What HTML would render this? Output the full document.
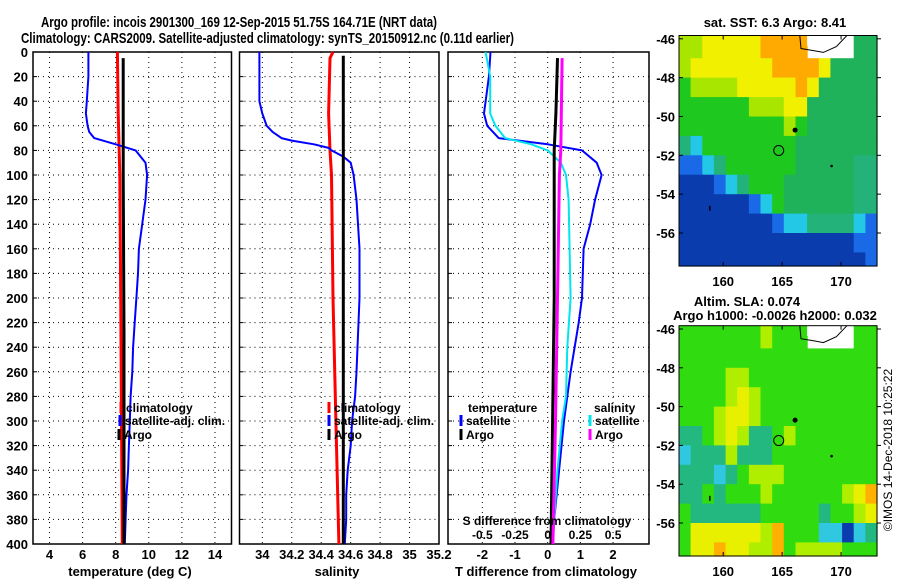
<!DOCTYPE html>
<html><head><meta charset="utf-8"><style>
html,body{margin:0;padding:0;background:#fff;}
svg{display:block;font-family:"Liberation Sans",Arial,sans-serif;font-weight:bold;}
</style></head><body>
<svg id="c" width="900" height="580" viewBox="0 0 900 580" xmlns="http://www.w3.org/2000/svg"></svg>
<script>
// ---------- data ----------
const depthTicks=[0,20,40,60,80,100,120,140,160,180,200,220,240,260,280,300,320,340,360,380,400];
const tTicks=[4,6,8,10,12,14];
const sTicks=[34,34.2,34.4,34.6,34.8,35,35.2];
const sTickLabels=["34","34.2","34.4","34.6","34.8","35","35.2"];
const dTicks=[-2,-1,0,1,2];
const dsTicks=[-0.5,-0.25,0,0.25,0.5];
const dsTickLabels=["-0.5","-0.25","0","0.25","0.5"];

const tClimDepth=[0,50,100,200,300,400];
const tClim=[8.1,8.15,8.25,8.3,8.35,8.4];
const tArgoDepth=[5,100,230,300,400];
const tArgo=[8.45,8.45,8.5,8.5,8.5];
const tSatDepth=[0,20,40,50,60,65,70,75,80,90,100,120,140,160,180,200,220,240,260,280,300,320,340,360,380,400];
const tSat=[6.35,6.35,6.25,6.2,6.3,6.4,6.7,8.0,9.2,9.8,9.9,9.8,9.6,9.4,9.35,9.25,9.15,9.05,9.0,8.9,8.85,8.8,8.75,8.65,8.6,8.55];

const sClimDepth=[0,5,50,80,100,200,300,350,400];
const sClim=[34.48,34.46,34.45,34.46,34.47,34.48,34.5,34.51,34.52];
const sArgoDepth=[3,400];
const sArgo=[34.55,34.55];
const sSatDepth=[0,40,50,60,65,70,72,75,78,80,85,90,100,120,160,200,260,280,300,320,340,360,380,400];
const sSat=[33.98,33.98,34.0,34.03,34.07,34.13,34.2,34.35,34.45,34.47,34.55,34.6,34.62,34.64,34.66,34.66,34.64,34.63,34.61,34.6,34.58,34.57,34.57,34.56];

const dTSatDepth=[0,20,50,60,70,75,80,90,100,120,140,160,200,220,260,300,340,380,400];
const dTSat=[-1.75,-1.8,-1.95,-1.85,-1.5,0,1.05,1.5,1.65,1.45,1.3,1.1,1.05,0.95,0.7,0.5,0.35,0.2,0.15];
const dTArgoDepth=[5,50,80,100,200,300,400];
const dTArgo=[0.3,0.25,0.2,0.2,0.2,0.15,0.1];
const dSSatDepth=[0,20,50,60,70,75,80,90,100,120,200,240,280,300,340,380,400];
const dSSat=[-0.475,-0.44,-0.44,-0.4,-0.325,-0.125,0,0.1,0.14,0.16,0.175,0.15,0.14,0.11,0.075,0.05,0.04];
const dSArgoDepth=[5,80,100,200,300,400];
const dSArgo=[0.11,0.1,0.09,0.075,0.06,0.04];

const lonTicks=[160,165,170];
const latTicks=[-46,-48,-50,-52,-54,-56];
const argoLon=164.71, argoLat=-51.75;
const sstGrid=[
"LLYYYYYOOOOWWWWEE","LYYYYYYYOOOOYEEEE","GLLLLYYYYYOYEEEEE","GGGGGGLLLYYEEEEEE",
"GGGGGGGGGLGEEEEEE","TCGGGGGGGGEEEEEEE","MMCTGGGGGGEEEEETT","BBBMCTGGGEEEEEETT",
"BBBBBBMCGEEEEEETT","BBBBBBBBMCCTTTTCM","BBBBBBBBBBBBBBBMM","BBBBBBBBBBBBBBBBM"];
const slaGrid=[
"GGGGGGGLGGGWWWWGG","GGGGGGGGGGGGGGGGG","GGGGLLGGGGGGGGGGG","GGGGLYLGGGGGGGGGG",
"GGGLYYLGGGGGGGGGG","TTGLYLTTGLGGGGGGG","CTTTLTTTGGGGGGGGG","TTTCTGLLLGGGGGGGG",
"TTGTGGGLGGGGGGLYO","GTTTTTTGGGGGTGGLY","GYYYYYYLOGGGCCBCT","GYYOYYLLOGLLLLGGG"];

// ---------- helpers ----------
const NS="http://www.w3.org/2000/svg";
const svg=document.getElementById('c');
function mk(tag,attrs,parent){const e=document.createElementNS(NS,tag);for(const k in attrs)e.setAttribute(k,attrs[k]);(parent||svg).appendChild(e);return e;}
function txt(s,x,y,size,anchor,parent){const e=mk('text',{x:x,y:y,'font-size':size,'text-anchor':anchor||'middle',fill:'#000'},parent);e.textContent=s;return e;}
const Y0=52,Y1=544;
function yD(d){return Y0+(Y1-Y0)*d/400;}

function panel(name,x0,x1,vmin,vmax){
  const g=mk('g',{});
  
  
  const sx=v=>x0+(x1-x0)*(v-vmin)/(vmax-vmin);
  return {g,sx,x0,x1};
}
function frame(p,xt,xl){
  const g=p.g;
  for(const d of depthTicks){ if(d>0&&d<400){
    const l=mk('line',{x1:p.x0,x2:p.x1,y1:yD(d),y2:yD(d),stroke:'#000','stroke-width':1,'stroke-dasharray':'1,4'},g);
    
    mk('line',{x1:p.x0,x2:p.x0+4,y1:yD(d),y2:yD(d),stroke:'#000'},g);
  }}
  xt.forEach((v,i)=>{
    const x=p.sx(v);
    const l=mk('line',{x1:x,x2:x,y1:Y0,y2:Y1,stroke:'#000','stroke-width':1,'stroke-dasharray':'1,4'},g);
    
    const t=txt(xl?xl[i]:String(v),x,559,13,'middle',g);
    
  });
  mk('rect',{x:p.x0,y:Y0,width:p.x1-p.x0,height:Y1-Y0,fill:'none',stroke:'#000','stroke-width':1.5},g);
}
function series(p,depths,vals,color,w,name){
  let d='';
  for(let i=0;i<depths.length;i++){d+=(i?'L':'M')+p.sx(vals[i]).toFixed(1)+','+yD(depths[i]).toFixed(1);}
  const e=mk('path',{d:d,fill:'none',stroke:color,'stroke-width':w,'stroke-linejoin':'round'},p.g);
  
  
}
function legendEntry(g,x,y,color,label,name){
  const gg=mk('g',{},g);
  
  
  mk('line',{x1:x,x2:x,y1:y-10,y2:y+1,stroke:color,'stroke-width':3},gg);
  if(label) txt(label,x+5,y,12,'start',gg);
}

// ---------- titles ----------
let t=txt('Argo profile: incois 2901300_169 12-Sep-2015 51.75S 164.71E (NRT data)',41,27,15,'start');
t.setAttribute('textLength','396');t.setAttribute('lengthAdjust','spacingAndGlyphs');

t=txt('Climatology: CARS2009. Satellite-adjusted climatology: synTS_20150912.nc (0.11d earlier)',21,43,15,'start');
t.setAttribute('textLength','493');t.setAttribute('lengthAdjust','spacingAndGlyphs');


for(const d of depthTicks){
  const e=txt(String(d),28,yD(d)+5,13,'end');
  
}

// ---------- panel 1: temperature ----------
const p1=panel('temperature-panel',33,231.5,3,15);
frame(p1,tTicks);
series(p1,tClimDepth,tClim,'#ff0000',3,'temperature-climatology-line');
series(p1,tSatDepth,tSat,'#0000ff',2,'temperature-satellite-line');
series(p1,tArgoDepth,tArgo,'#000000',3,'temperature-argo-line');
legendEntry(p1.g,121,412,'#ff0000','climatology','legend-entry-climatology');
legendEntry(p1.g,120,425,'#0000ff','satellite-adj. clim.','legend-entry-satellite');
legendEntry(p1.g,119,439,'#000000','Argo','legend-entry-argo');
t=txt('temperature (deg C)',130,576,13,'middle');

// ---------- panel 2: salinity ----------
const p2=panel('salinity-panel',239.5,439,33.845,35.2);
frame(p2,sTicks,sTickLabels);
series(p2,sClimDepth,sClim,'#ff0000',3,'salinity-climatology-line');
series(p2,sSatDepth,sSat,'#0000ff',2,'salinity-satellite-line');
series(p2,sArgoDepth,sArgo,'#000000',3,'salinity-argo-line');
legendEntry(p2.g,329,412,'#ff0000','climatology','legend-entry-climatology');
legendEntry(p2.g,329,425,'#0000ff','satellite-adj. clim.','legend-entry-satellite');
legendEntry(p2.g,329,439,'#000000','Argo','legend-entry-argo');
t=txt('salinity',337,576,13,'middle');

// ---------- panel 3: differences ----------
const p3=panel('difference-panel',448,649,-3.05,3.1);
frame(p3,dTicks);
const p3s={g:p3.g,sx:v=>p3.sx(v*4),x0:p3.x0,x1:p3.x1};
series(p3,dTSatDepth,dTSat,'#0000ff',2,'t-diff-satellite-line');
series(p3s,dSSatDepth,dSSat,'#00e5ee',2,'s-diff-satellite-line');
series(p3,dTArgoDepth,dTArgo,'#000000',3,'t-diff-argo-line');
series(p3s,dSArgoDepth,dSArgo,'#ff00ff',3,'s-diff-argo-line');
t=txt('temperature',468,412,12,'start',p3.g);
legendEntry(p3.g,461,425,'#0000ff','satellite','legend-entry-t-satellite');
legendEntry(p3.g,461,439,'#000000','Argo','legend-entry-t-argo');
t=txt('salinity',594,412,12,'start',p3.g);
legendEntry(p3.g,590,425,'#00e5ee','satellite','legend-entry-s-satellite');
legendEntry(p3.g,590,439,'#ff00ff','Argo','legend-entry-s-argo');
t=txt('S difference from climatology',547,525,12,'middle',p3.g);
dsTicks.forEach((v,i)=>{const e=txt(dsTickLabels[i],p3s.sx(v),539,12,'middle',p3.g);});
t=txt('T difference from climatology',546,576,13,'middle');

// ---------- maps ----------
const colors={G:'#1ec81e',E:'#20b25a',T:'#22b27a',C:'#22c8e6',M:'#1a6ae8',B:'#0b3cae',Y:'#f0f000',L:'#a8e600',O:'#ffaa00',W:'#ffffff'};
const slaColors={G:'#30dc10',E:'#20b25a',T:'#22b880',C:'#30c8e0',M:'#1a6ae8',B:'#0b3cae',Y:'#e8f000',L:'#b0ee00',O:'#ffb000',W:'#ffffff'};
const LON0=156.25,LON1=173.05,LAT0=-45.83,LAT1=-57.7;
function map(name,y0,y1,grid,cols){
  const x0=679,x1=877;
  const g=mk('g',{});
  
  
  const mx=lo=>x0+(x1-x0)*(lo-LON0)/(LON1-LON0);
  const my=la=>y0+(y1-y0)*(la-LAT0)/(LAT1-LAT0);
  const nc=grid[0].length, nr=grid.length;
  for(let r=0;r<nr;r++)for(let c=0;c<nc;c++){
    const lo=LON0+c*(LON1-LON0)/nc;
    const ya=r===0?y0:my(-46-r), yb=r===nr-1?y1:my(-47-r);
    const hh=grid[r][c]==='W'?(yb-ya)*0.45:(yb-ya+0.6);
    const cell=mk('rect',{x:mx(lo).toFixed(1),y:ya.toFixed(1),width:((x1-x0)/nc+0.6).toFixed(1),height:hh.toFixed(1),fill:cols[grid[r][c]]},g);
    
    
  }
  mk('circle',{cx:mx(166.1),cy:my(-50.7),r:2.5,fill:'#000'},g);
  mk('circle',{cx:mx(169.2),cy:my(-52.55),r:1.3,fill:'#000'},g);
  mk('rect',{x:mx(158.8),y:my(-54.6),width:1.5,height:5,fill:'#000'},g);
  mk('path',{d:`M${mx(166.5)},${y0} L${mx(166.6)},${my(-46.5)} L${mx(167.6)},${my(-46.6)} L${mx(168.5)},${my(-46.7)} L${mx(169.6)},${my(-46.4)} L${mx(170.5)},${y0}`,fill:'none',stroke:'#000','stroke-width':1},g);
  const ac=mk('circle',{cx:mx(argoLon),cy:my(argoLat),r:5,fill:'none',stroke:'#000','stroke-width':1},g);
  
  mk('rect',{x:x0,y:y0,width:x1-x0,height:y1-y0,fill:'none',stroke:'#000','stroke-width':1},g);
  for(const lo of lonTicks){
    mk('line',{x1:mx(lo),x2:mx(lo),y1:y1,y2:y1-4,stroke:'#000'},g);
    mk('line',{x1:mx(lo),x2:mx(lo),y1:y0,y2:y0+4,stroke:'#000'},g);
    const e=txt(String(lo),mx(lo),y1+20,13,'middle',g);
  }
  for(const la of latTicks){
    mk('line',{x1:x0,x2:x0+4,y1:my(la),y2:my(la),stroke:'#000'},g);
    mk('line',{x1:x1,x2:x1+4,y1:my(la),y2:my(la),stroke:'#000'},g);
    const e=txt(String(la),675,my(la)+5,13,'end',g);
  }
  return g;
}
map('sst-map',35.5,266,sstGrid,colors);
map('sla-map',325.7,556,slaGrid,slaColors);
t=txt('sat. SST: 6.3 Argo: 8.41',775,27,13,'middle');
t=txt('Altim. SLA: 0.074',747,306,13,'middle');
t=txt('Argo h1000: -0.0026 h2000: 0.032',775,320,13,'middle');
t=txt('©IMOS 14-Dec-2018 10:25:22',0,0,12,'middle');
t.setAttribute('transform','translate(892,450) rotate(-90)');
t.setAttribute('font-weight','normal');

</script>
</body></html>
